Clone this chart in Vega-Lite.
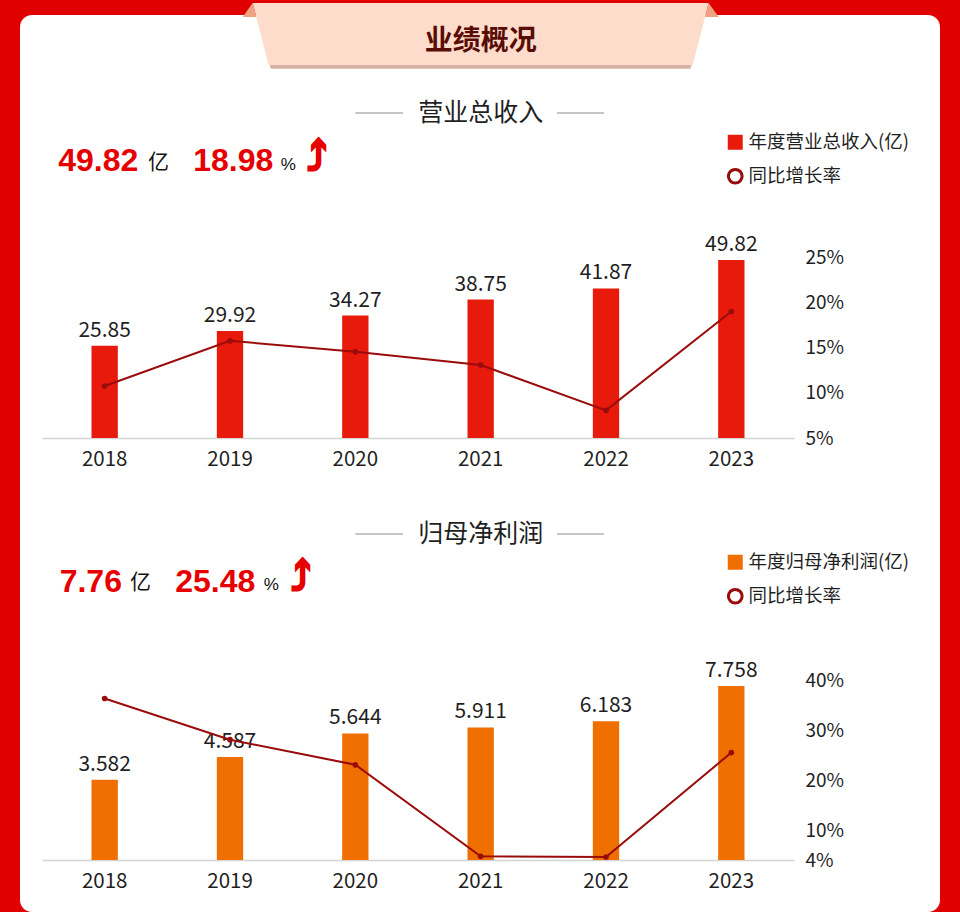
{
  "$schema": "https://vega.github.io/schema/vega-lite/v6.json",
  "width": 920,
  "height": 897,
  "autosize": {"type": "none"},
  "padding": {"left": 20, "top": 15, "right": 20, "bottom": 0},
  "background": "#e10000",
  "view": {"fill": "#ffffff", "stroke": null, "cornerRadius": 12},
  "config": {"font": "Noto Sans CJK SC", "view": {"stroke": null}},
  "datasets": {
    "rev": [
      {"year": "2018", "value": 25.85, "growth": 10.75},
      {"year": "2019", "value": 29.92, "growth": 15.74},
      {"year": "2020", "value": 34.27, "growth": 14.54},
      {"year": "2021", "value": 38.75, "growth": 13.07},
      {"year": "2022", "value": 41.87, "growth": 8.05},
      {"year": "2023", "value": 49.82, "growth": 18.98}
    ],
    "np": [
      {"year": "2018", "value": 3.582, "growth": 36.3},
      {"year": "2019", "value": 4.587, "growth": 28.06},
      {"year": "2020", "value": 5.644, "growth": 23.04},
      {"year": "2021", "value": 5.911, "growth": 4.73},
      {"year": "2022", "value": 6.183, "growth": 4.6},
      {"year": "2023", "value": 7.758, "growth": 25.48}
    ]
  },
  "layer": [
    {
      "data": {"name": "rev"},
      "layer": [
        {
          "layer": [
            {
              "transform": [{"filter": "datum.year === '2023'"}],
              "mark": {"type": "point", "shape": "M-0.93,0.12 L0.93,0.12 L0.92,0.152 L-0.92,0.152 Z", "size": 207936, "filled": true, "color": "#d6b2a2", "opacity": 1, "strokeWidth": 0},
              "encoding": {"x": {"datum": "2021"}, "y": {"datum": 113.07, "axis": null}}
            },
            {
              "transform": [{"filter": "datum.year === '2023'"}],
              "mark": {"type": "point", "shape": "M-1,-0.136 L1,-0.136 L0.93,0.136 L-0.93,0.136 Z", "size": 207936, "filled": true, "color": "#fddccc", "opacity": 1, "strokeWidth": 0},
              "encoding": {"x": {"datum": "2021"}, "y": {"datum": 113.07, "axis": null}}
            },
            {
              "transform": [{"filter": "datum.year === '2023'"}],
              "mark": {"type": "point", "shape": "M-1.044,-0.075 L-1,-0.136 L-0.984,-0.075 Z", "size": 207936, "filled": true, "color": "#f0a383", "opacity": 1, "strokeWidth": 0},
              "encoding": {"x": {"datum": "2021"}, "y": {"datum": 113.07, "axis": null}}
            },
            {
              "transform": [{"filter": "datum.year === '2023'"}],
              "mark": {"type": "point", "shape": "M1.044,-0.075 L1,-0.136 L0.984,-0.075 Z", "size": 207936, "filled": true, "color": "#f0a383", "opacity": 1, "strokeWidth": 0},
              "encoding": {"x": {"datum": "2021"}, "y": {"datum": 113.07, "axis": null}}
            },
            {
              "transform": [{"filter": "datum.year === '2023'"}],
              "mark": {"type": "text", "text": "业绩概况", "fontSize": 28, "fontWeight": "bold", "color": "#5a0c06", "align": "center", "baseline": "alphabetic"},
              "encoding": {"x": {"datum": "2021"}, "y": {"datum": 108.59, "axis": null}}
            },
            {
              "transform": [{"filter": "datum.year === '2023'"}],
              "mark": {"type": "text", "text": "营业总收入", "fontSize": 25, "color": "#1f1f1f", "align": "center", "baseline": "alphabetic"},
              "encoding": {"x": {"datum": "2021"}, "y": {"datum": 88.64, "axis": null}}
            },
            {
              "transform": [{"filter": "datum.year === '2023'"}],
              "mark": {"type": "rule", "color": "#b3b3b3", "strokeWidth": 1.5, "x2Offset": -77.7},
              "encoding": {"x": {"datum": "2020"}, "x2": {"datum": "2021"}, "y": {"datum": 90.96, "axis": null}}
            },
            {
              "transform": [{"filter": "datum.year === '2023'"}],
              "mark": {"type": "rule", "color": "#b3b3b3", "strokeWidth": 1.5, "xOffset": 76.3, "x2Offset": -2},
              "encoding": {"x": {"datum": "2021"}, "x2": {"datum": "2022"}, "y": {"datum": 90.96, "axis": null}}
            },
            {
              "transform": [{"filter": "datum.year === '2023'"}],
              "mark": {"type": "text", "font": "Liberation Sans", "fontSize": 32, "fontWeight": "bold", "color": "#e60000", "align": "left", "baseline": "alphabetic", "dx": -46.5},
              "encoding": {"x": {"datum": "2018"}, "y": {"datum": 74.73, "axis": null}, "text": {"field": "value", "type": "quantitative", "format": ".2f"}}
            },
            {
              "transform": [{"filter": "datum.year === '2023'"}],
              "mark": {"type": "text", "text": "亿", "fontSize": 21, "color": "#111111", "align": "left", "baseline": "alphabetic", "dx": 43.3},
              "encoding": {"x": {"datum": "2018"}, "y": {"datum": 75.15, "axis": null}}
            },
            {
              "transform": [{"filter": "datum.year === '2023'"}],
              "mark": {"type": "text", "font": "Liberation Sans", "fontSize": 32, "fontWeight": "bold", "color": "#e60000", "align": "left", "baseline": "alphabetic", "dx": 88.5},
              "encoding": {"x": {"datum": "2018"}, "y": {"datum": 74.73, "axis": null}, "text": {"field": "growth", "type": "quantitative", "format": ".2f"}}
            },
            {
              "transform": [{"filter": "datum.year === '2023'"}],
              "mark": {"type": "text", "text": "%", "font": "Liberation Sans", "fontSize": 17, "color": "#111111", "align": "left", "baseline": "alphabetic", "dx": 176},
              "encoding": {"x": {"datum": "2018"}, "y": {"datum": 75.01, "axis": null}}
            },
            {
              "transform": [{"filter": "datum.year === '2023'"}],
              "mark": {"type": "text", "text": "⤴", "font": "DejaVu Sans", "fontSize": 40, "fontWeight": "bold", "color": "#e60000", "stroke": "#e60000", "strokeWidth": 1.8, "align": "left", "baseline": "alphabetic", "dx": 202},
              "encoding": {"x": {"datum": "2018"}, "y": {"datum": 74.73, "axis": null}}
            },
            {
              "mark": {"type": "bar"},
              "encoding": {
                "x": {"field": "year", "type": "nominal", "scale": {"domain": ["2018", "2019", "2020", "2021", "2022", "2023"], "range": [22, 774], "paddingInner": 0.79, "paddingOuter": 0.395},
                  "axis": {"orient": "bottom", "offset": -474, "title": null, "labelAngle": 0, "labelAlign": "center", "labelBaseline": "top", "labelFontSize": 20.5, "labelColor": "#1f1f1f", "labelPadding": 11, "ticks": false, "tickSize": 0, "grid": false, "domain": true, "domainColor": "#d4d4d4", "domainWidth": 1.5}},
                "y": {"field": "value", "type": "quantitative", "scale": {"domain": [0, 50], "range": [423, 244.35], "nice": false}, "axis": null},
                "color": {"datum": "年度营业总收入(亿)", "type": "nominal",
                  "scale": {"domain": ["年度营业总收入(亿)", "同比增长率"], "range": ["#e81a0c", "#9a0b0b"]},
                  "legend": {"orient": "none", "legendX": 706, "legendY": 118, "title": null, "direction": "vertical", "padding": 0,
                    "labelFontSize": 18.5, "labelColor": "#1f1f1f", "labelOffset": 4, "labelLimit": 400, "rowPadding": 11, "symbolSize": 225,
                    "encode": {"symbols": {"update": {
                      "shape": {"signal": "datum.value === '同比增长率' ? 'circle' : 'square'"},
                      "fillOpacity": {"signal": "datum.value === '同比增长率' ? 0 : 1"},
                      "stroke": {"value": "#9a0b0b"},
                      "strokeOpacity": {"value": 1},
                      "strokeWidth": {"signal": "datum.value === '同比增长率' ? 3 : 0"},
                      "size": {"signal": "datum.value === '同比增长率' ? 188 : 225"}
                    }}}}}
              }
            },
            {
              "mark": {"type": "text", "baseline": "alphabetic", "dy": -9, "fontSize": 21, "color": "#1f1f1f"},
              "encoding": {
                "x": {"field": "year", "type": "nominal"},
                "y": {"field": "value", "type": "quantitative", "axis": null},
                "text": {"field": "value", "type": "quantitative", "format": ".2f"}
              }
            }
          ]
        },
        {
          "layer": [
            {
              "mark": {"type": "line", "strokeWidth": 2},
              "encoding": {
                "x": {"field": "year", "type": "nominal"},
                "y": {"field": "growth", "type": "quantitative", "scale": {"domain": [5, 25], "range": [423, 242], "nice": false, "zero": false},
                  "axis": {"orient": "right", "offset": -140, "values": [5, 10, 15, 20, 25], "labelExpr": "datum.value + '%'", "domain": false, "ticks": false, "tickSize": 0, "grid": false, "labelPadding": 5, "labelFontSize": 19, "labelColor": "#1f1f1f", "title": null}},
                "color": {"datum": "同比增长率", "type": "nominal"}
              }
            },
            {
              "mark": {"type": "point", "filled": true, "size": 32, "opacity": 1},
              "encoding": {
                "x": {"field": "year", "type": "nominal"},
                "y": {"field": "growth", "type": "quantitative"},
                "color": {"datum": "同比增长率", "type": "nominal"}
              }
            }
          ]
        }
      ],
      "resolve": {"scale": {"y": "independent"}}
    },
    {
      "data": {"name": "np"},
      "layer": [
        {
          "layer": [
            {
              "transform": [{"filter": "datum.year === '2023'"}],
              "mark": {"type": "text", "text": "归母净利润", "fontSize": 25, "color": "#1f1f1f", "align": "center", "baseline": "alphabetic"},
              "encoding": {"x": {"datum": "2021"}, "y": {"datum": 14.16, "axis": null}}
            },
            {
              "transform": [{"filter": "datum.year === '2023'"}],
              "mark": {"type": "rule", "color": "#b3b3b3", "strokeWidth": 1.5, "x2Offset": -77.7},
              "encoding": {"x": {"datum": "2020"}, "x2": {"datum": "2021"}, "y": {"datum": 14.53, "axis": null}}
            },
            {
              "transform": [{"filter": "datum.year === '2023'"}],
              "mark": {"type": "rule", "color": "#b3b3b3", "strokeWidth": 1.5, "xOffset": 76.3, "x2Offset": -2},
              "encoding": {"x": {"datum": "2021"}, "x2": {"datum": "2022"}, "y": {"datum": 14.53, "axis": null}}
            },
            {
              "transform": [{"filter": "datum.year === '2023'"}],
              "mark": {"type": "text", "font": "Liberation Sans", "fontSize": 32, "fontWeight": "bold", "color": "#e60000", "align": "left", "baseline": "alphabetic", "dx": -45},
              "encoding": {"x": {"datum": "2018"}, "y": {"datum": 11.95, "axis": null}, "text": {"field": "value", "type": "quantitative", "format": ".2f"}}
            },
            {
              "transform": [{"filter": "datum.year === '2023'"}],
              "mark": {"type": "text", "text": "亿", "fontSize": 21, "color": "#111111", "align": "left", "baseline": "alphabetic", "dx": 25.3},
              "encoding": {"x": {"datum": "2018"}, "y": {"datum": 12.06, "axis": null}}
            },
            {
              "transform": [{"filter": "datum.year === '2023'"}],
              "mark": {"type": "text", "font": "Liberation Sans", "fontSize": 32, "fontWeight": "bold", "color": "#e60000", "align": "left", "baseline": "alphabetic", "dx": 70.5},
              "encoding": {"x": {"datum": "2018"}, "y": {"datum": 11.95, "axis": null}, "text": {"field": "growth", "type": "quantitative", "format": ".2f"}}
            },
            {
              "transform": [{"filter": "datum.year === '2023'"}],
              "mark": {"type": "text", "text": "%", "font": "Liberation Sans", "fontSize": 17, "color": "#111111", "align": "left", "baseline": "alphabetic", "dx": 159},
              "encoding": {"x": {"datum": "2018"}, "y": {"datum": 12.04, "axis": null}}
            },
            {
              "transform": [{"filter": "datum.year === '2023'"}],
              "mark": {"type": "text", "text": "⤴", "font": "DejaVu Sans", "fontSize": 40, "fontWeight": "bold", "color": "#e60000", "stroke": "#e60000", "strokeWidth": 1.8, "align": "left", "baseline": "alphabetic", "dx": 186},
              "encoding": {"x": {"datum": "2018"}, "y": {"datum": 11.99, "axis": null}}
            },
            {
              "mark": {"type": "bar"},
              "encoding": {
                "x": {"field": "year", "type": "nominal", "scale": {"domain": ["2018", "2019", "2020", "2021", "2022", "2023"], "range": [22, 774], "paddingInner": 0.79, "paddingOuter": 0.395},
                  "axis": {"orient": "bottom", "offset": -52, "title": null, "labelAngle": 0, "labelAlign": "center", "labelBaseline": "top", "labelFontSize": 20.5, "labelColor": "#1f1f1f", "labelPadding": 11, "ticks": false, "tickSize": 0, "grid": false, "domain": true, "domainColor": "#d4d4d4", "domainWidth": 1.5}},
                "y": {"field": "value", "type": "quantitative", "scale": {"domain": [0, 8], "range": [845, 665.56], "nice": false}, "axis": null},
                "color": {"datum": "年度归母净利润(亿)", "type": "nominal",
                  "scale": {"domain": ["年度归母净利润(亿)", "同比增长率"], "range": ["#ef6f00", "#9a0b0b"]},
                  "legend": {"orient": "none", "legendX": 706, "legendY": 538, "title": null, "direction": "vertical", "padding": 0,
                    "labelFontSize": 18.5, "labelColor": "#1f1f1f", "labelOffset": 4, "labelLimit": 400, "rowPadding": 11, "symbolSize": 225,
                    "encode": {"symbols": {"update": {
                      "shape": {"signal": "datum.value === '同比增长率' ? 'circle' : 'square'"},
                      "fillOpacity": {"signal": "datum.value === '同比增长率' ? 0 : 1"},
                      "stroke": {"value": "#9a0b0b"},
                      "strokeOpacity": {"value": 1},
                      "strokeWidth": {"signal": "datum.value === '同比增长率' ? 3 : 0"},
                      "size": {"signal": "datum.value === '同比增长率' ? 188 : 225"}
                    }}}}}
              }
            },
            {
              "mark": {"type": "text", "baseline": "alphabetic", "dy": -9, "fontSize": 21, "color": "#1f1f1f"},
              "encoding": {
                "x": {"field": "year", "type": "nominal"},
                "y": {"field": "value", "type": "quantitative", "axis": null},
                "text": {"field": "value", "type": "quantitative", "format": ".3f"}
              }
            }
          ]
        },
        {
          "layer": [
            {
              "mark": {"type": "line", "strokeWidth": 2},
              "encoding": {
                "x": {"field": "year", "type": "nominal"},
                "y": {"field": "growth", "type": "quantitative", "scale": {"domain": [4, 40], "range": [845, 665], "nice": false, "zero": false},
                  "axis": {"orient": "right", "offset": -140, "values": [4, 10, 20, 30, 40], "labelExpr": "datum.value + '%'", "domain": false, "ticks": false, "tickSize": 0, "grid": false, "labelPadding": 5, "labelFontSize": 19, "labelColor": "#1f1f1f", "title": null}},
                "color": {"datum": "同比增长率", "type": "nominal"}
              }
            },
            {
              "mark": {"type": "point", "filled": true, "size": 32, "opacity": 1},
              "encoding": {
                "x": {"field": "year", "type": "nominal"},
                "y": {"field": "growth", "type": "quantitative"},
                "color": {"datum": "同比增长率", "type": "nominal"}
              }
            }
          ]
        }
      ],
      "resolve": {"scale": {"y": "independent"}}
    }
  ],
  "resolve": {"scale": {"x": "independent", "y": "independent", "color": "independent"}}
}
